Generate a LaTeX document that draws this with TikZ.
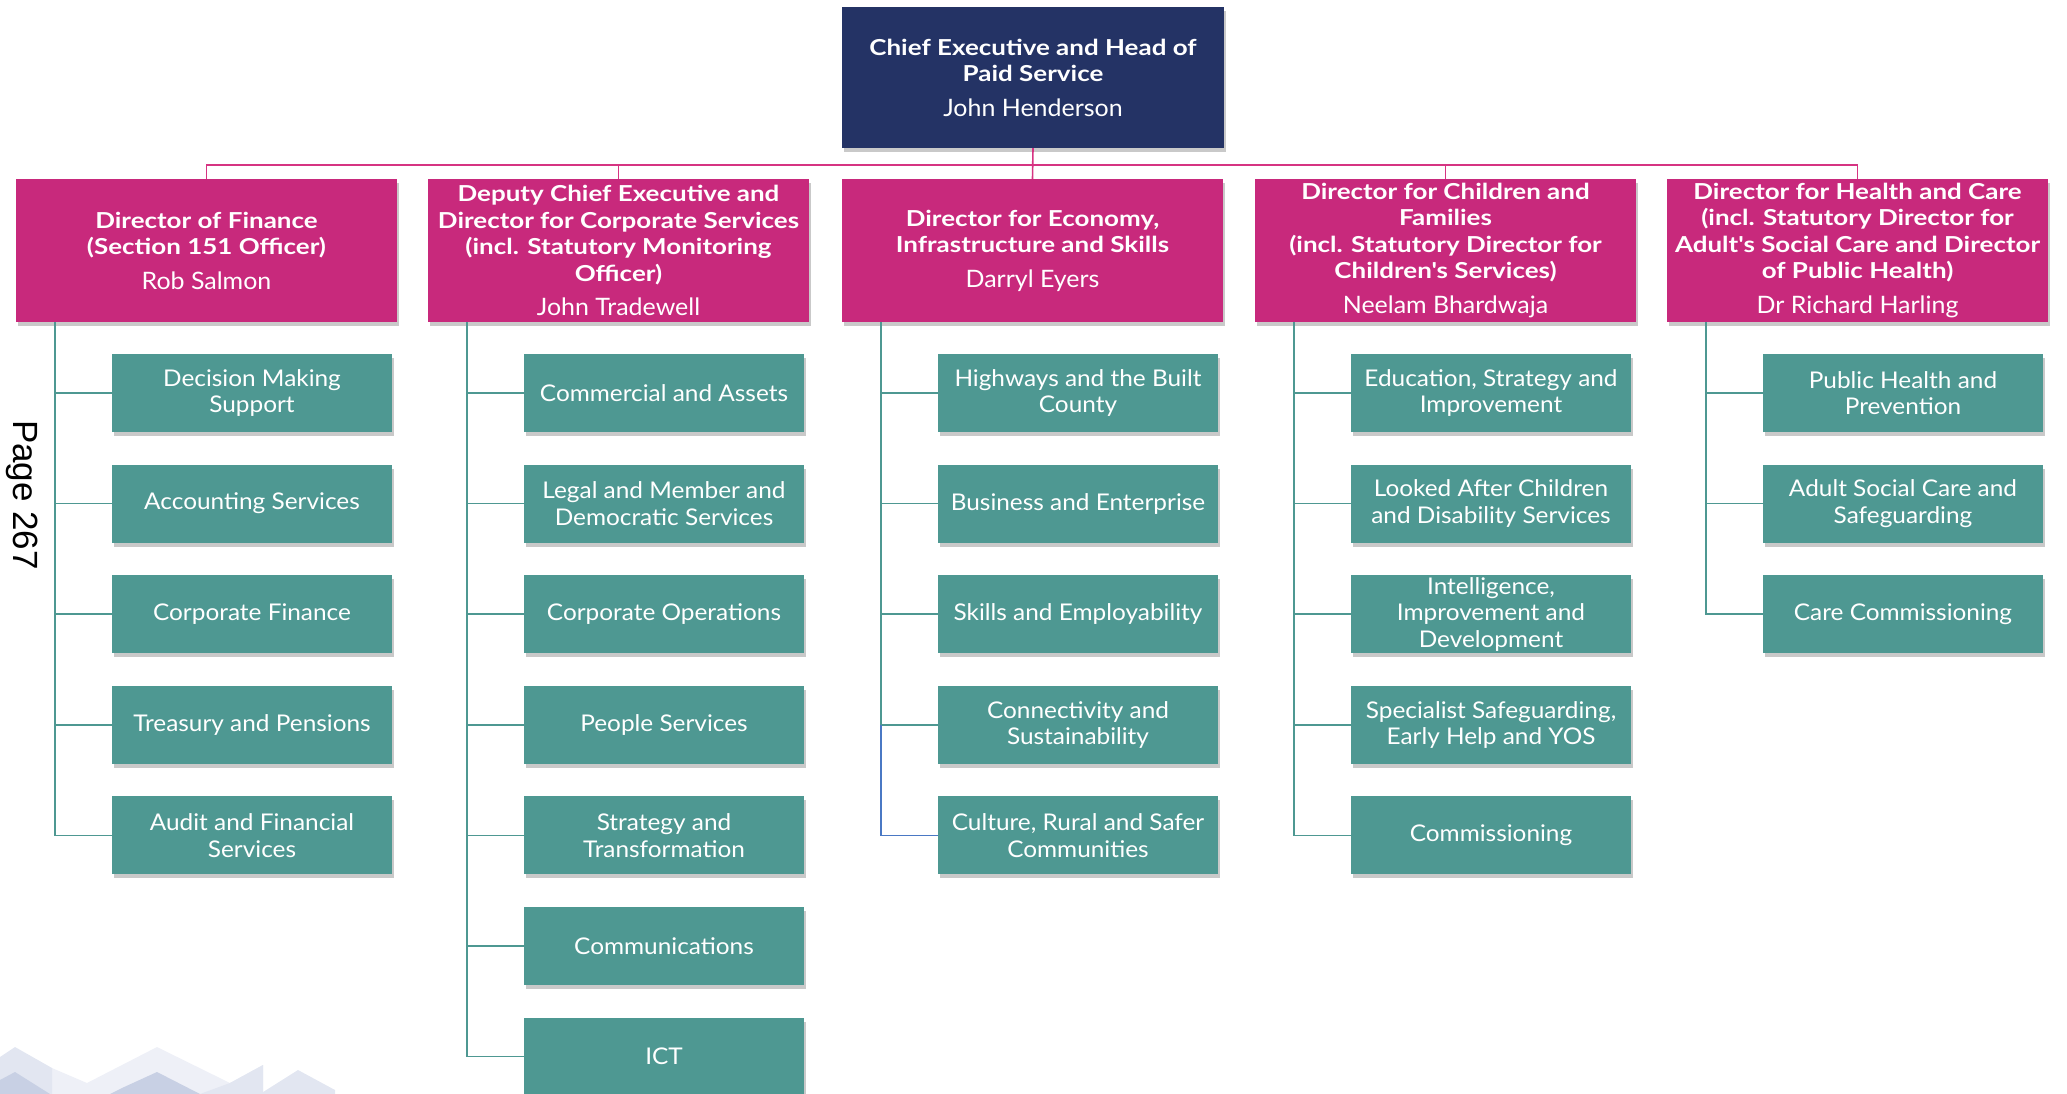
\documentclass[tikz,border=0pt]{standalone}
\usepackage{fontspec}
\setmainfont[FakeStretch=1.06]{Lato}
\newfontfamily\titlefam[FakeStretch=1.18]{Lato}
\newfontfamily\namefam[FakeStretch=1.04]{Lato}
\newfontfamily\pagefont{Liberation Sans}
\usetikzlibrary{shadows}

\definecolor{navybox}{RGB}{36,51,101}
\definecolor{pinkbox}{RGB}{200,41,124}
\definecolor{tealbox}{RGB}{78,152,146}
\definecolor{pinkwire}{RGB}{214,52,130}
\definecolor{bluewire}{RGB}{74,120,196}
\definecolor{hillpale}{RGB}{238,240,247}
\definecolor{hilllight}{RGB}{226,230,241}
\definecolor{hilldark}{RGB}{200,208,228}

\newcommand{\titlefont}{\titlefam\bfseries\fontsize{22}{26.5}\selectfont}
\newcommand{\namefont}{\namefam\mdseries\fontsize{24}{28}\selectfont}

\tikzset{
  boxshadow/.style={drop shadow={shadow xshift=2pt, shadow yshift=-4pt, opacity=0.3, fill=black!70}},
  headbox/.style={boxshadow, fill=navybox, text=white, minimum width=382pt, minimum height=141pt,
    inner sep=0pt, align=center, font=\titlefont},
  dirbox/.style={headbox, fill=pinkbox, minimum width=381pt, minimum height=143pt},
  unitbox/.style={boxshadow, fill=tealbox, text=white, minimum width=280pt, minimum height=78pt,
    inner sep=0pt, align=center, font=\fontsize{23}{26.5}\selectfont},
  buswire/.style={draw=pinkwire, line width=1.6pt},
  unitwire/.style={draw=tealbox, line width=1.6pt},
  bluewire/.style={draw=bluewire, line width=1.6pt}
}

\begin{document}
\begin{tikzpicture}[x=1pt, y=-1pt]
  \useasboundingbox (0,0) rectangle (2067,1094);
  % hills in the corner
  \fill [hillpale] (52,1068) -- (87,1083) -- (157,1047) -- (230,1083) -- (263,1065) -- (263,1094) -- (52,1094) -- cycle;
  \fill [hilllight] (0,1057) -- (15,1047) -- (52,1068) -- (52,1094) -- (0,1094) -- cycle;
  \fill [hilllight] (263,1065) -- (263,1094) -- (200,1094) -- (230,1083) -- cycle;
  \fill [hilldark] (0,1080) -- (15,1072) -- (50,1094) -- (0,1094) -- cycle;
  \fill [hilldark] (110,1094) -- (122,1088) -- (157,1072) -- (200,1094) -- cycle;
  \fill [hilllight] (260,1094) -- (298,1070) -- (335,1090) -- (335,1094) -- cycle;

  \node [rotate=-90, font=\pagefont\fontsize{35}{40}\selectfont] (page) at (22,495) {Page 267};

  % top
  \node [headbox] (ceo) at (1033,77.5) {Chief Executive and Head of\\Paid Service\\[8pt]\namefont John Henderson};
  \coordinate (bus) at (1033,165);

  % directors
  \node [dirbox] (fin) at (206.5,250.5) {Director of Finance\\(Section 151 Officer)\\[8pt]\namefont Rob Salmon};
  \node [dirbox] (dep) at (618.5,250.5) {Deputy Chief Executive and\\Director for Corporate Services\\(incl. Statutory Monitoring\\Officer)\\[8pt]\namefont John Tradewell};
  \node [dirbox] (eco) at (1032.5,250.5) {Director for Economy,\\Infrastructure and Skills\\[8pt]\namefont Darryl Eyers};
  \node [dirbox] (chi) at (1445.5,250.5) {Director for Children and\\Families\\(incl. Statutory Director for\\Children's Services)\\[8pt]\namefont Neelam Bhardwaja};
  \node [dirbox] (hea) at (1857.5,250.5) {Director for Health and Care\\(incl. Statutory Director for\\Adult's Social Care and Director\\of Public Health)\\[8pt]\namefont Dr Richard Harling};

  \draw [buswire] (ceo.south) -- (eco.north);
  \draw [buswire] (fin.north) |- (bus) -| (hea.north);
  \draw [buswire] (dep.north) -- (dep.north |- bus);
  \draw [buswire] (chi.north) -- (chi.north |- bus);

  \coordinate (fint) at ([xshift=39pt]fin.south west);
  \coordinate (dept) at ([xshift=39pt]dep.south west);
  \coordinate (ecot) at ([xshift=39pt]eco.south west);
  \coordinate (chit) at ([xshift=39pt]chi.south west);
  \coordinate (heat) at ([xshift=39pt]hea.south west);

  % finance
  \node [unitbox] (fin1) at (252,393) {Decision Making\\Support};
  \node [unitbox] (fin2) at (252,503.6) {Accounting Services};
  \node [unitbox] (fin3) at (252,614.2) {Corporate Finance};
  \node [unitbox] (fin4) at (252,724.8) {Treasury and Pensions};
  \node [unitbox] (fin5) at (252,835.4) {Audit and Financial\\Services};
  \draw [unitwire] (fint) |- (fin1.west);
  \draw [unitwire] (fint) |- (fin2.west);
  \draw [unitwire] (fint) |- (fin3.west);
  \draw [unitwire] (fint) |- (fin4.west);
  \draw [unitwire] (fint) |- (fin5.west);

  % corporate services
  \node [unitbox] (dep1) at (664,393) {Commercial and Assets};
  \node [unitbox] (dep2) at (664,503.6) {Legal and Member and\\Democratic Services};
  \node [unitbox] (dep3) at (664,614.2) {Corporate Operations};
  \node [unitbox] (dep4) at (664,724.8) {People Services};
  \node [unitbox] (dep5) at (664,835.4) {Strategy and\\Transformation};
  \node [unitbox] (dep6) at (664,946) {Communications};
  \node [unitbox] (dep7) at (664,1056.6) {ICT};
  \draw [unitwire] (dept) |- (dep1.west);
  \draw [unitwire] (dept) |- (dep2.west);
  \draw [unitwire] (dept) |- (dep3.west);
  \draw [unitwire] (dept) |- (dep4.west);
  \draw [unitwire] (dept) |- (dep5.west);
  \draw [unitwire] (dept) |- (dep6.west);
  \draw [unitwire] (dept) |- (dep7.west);

  % economy
  \node [unitbox] (eco1) at (1078,393) {Highways and the Built\\County};
  \node [unitbox] (eco2) at (1078,503.6) {Business and Enterprise};
  \node [unitbox] (eco3) at (1078,614.2) {Skills and Employability};
  \node [unitbox] (eco4) at (1078,724.8) {Connectivity and\\Sustainability};
  \node [unitbox] (eco5) at (1078,835.4) {Culture, Rural and Safer\\Communities};
  \draw [unitwire] (ecot) |- (eco1.west);
  \draw [unitwire] (ecot) |- (eco2.west);
  \draw [unitwire] (ecot) |- (eco3.west);
  \draw [unitwire] (ecot) |- (eco4.west);
  \draw [bluewire] (eco4.west -| ecot) |- (eco5.west);

  % children
  \node [unitbox] (chi1) at (1491,393) {Education, Strategy and\\Improvement};
  \node [unitbox] (chi2) at (1491,503.6) {Looked After Children\\and Disability Services};
  \node [unitbox] (chi3) at (1491,614.2) {Intelligence,\\Improvement and\\Development};
  \node [unitbox] (chi4) at (1491,724.8) {Specialist Safeguarding,\\Early Help and YOS};
  \node [unitbox] (chi5) at (1491,835.4) {Commissioning};
  \draw [unitwire] (chit) |- (chi1.west);
  \draw [unitwire] (chit) |- (chi2.west);
  \draw [unitwire] (chit) |- (chi3.west);
  \draw [unitwire] (chit) |- (chi4.west);
  \draw [unitwire] (chit) |- (chi5.west);

  % health
  \node [unitbox] (hea1) at (1903,393) {Public Health and\\Prevention};
  \node [unitbox] (hea2) at (1903,503.6) {Adult Social Care and\\Safeguarding};
  \node [unitbox] (hea3) at (1903,614.2) {Care Commissioning};
  \draw [unitwire] (heat) |- (hea1.west);
  \draw [unitwire] (heat) |- (hea2.west);
  \draw [unitwire] (heat) |- (hea3.west);
\end{tikzpicture}
\end{document}
